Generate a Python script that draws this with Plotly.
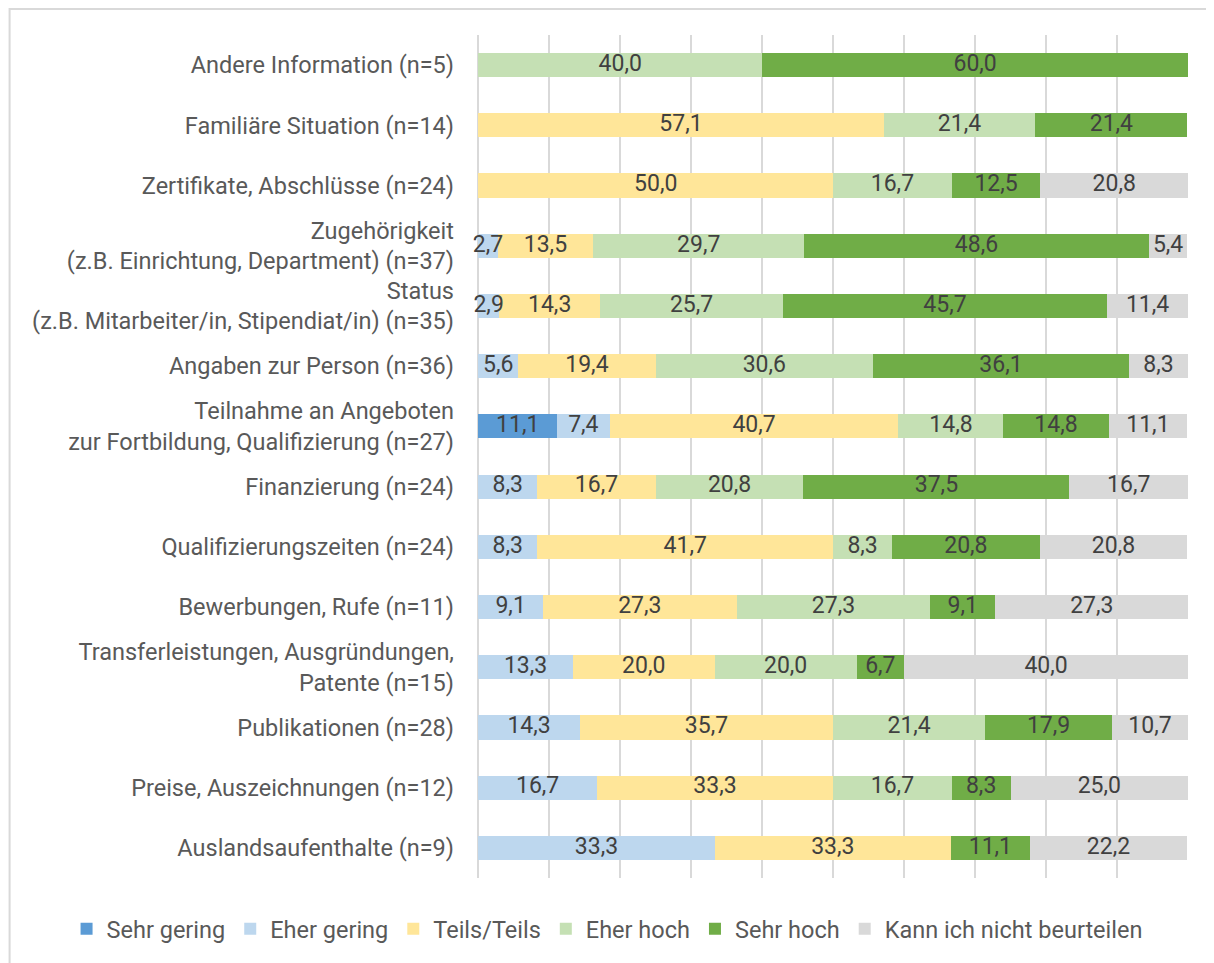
import plotly.graph_objects as go

categories = [
    "Andere Information (n=5)",
    "Familiäre Situation (n=14)",
    "Zertifikate, Abschlüsse (n=24)",
    "Zugehörigkeit<br>(z.B. Einrichtung, Department) (n=37)",
    "Status<br>(z.B. Mitarbeiter/in, Stipendiat/in) (n=35)",
    "Angaben zur Person (n=36)",
    "Teilnahme an Angeboten<br>zur Fortbildung, Qualifizierung (n=27)",
    "Finanzierung (n=24)",
    "Qualifizierungszeiten (n=24)",
    "Bewerbungen, Rufe (n=11)",
    "Transferleistungen, Ausgründungen,<br>Patente (n=15)",
    "Publikationen (n=28)",
    "Preise, Auszeichnungen (n=12)",
    "Auslandsaufenthalte (n=9)",
]

sehr_gering = [0, 0, 0, 0, 0, 0, 11.1, 0, 0, 0, 0, 0, 0, 0]
eher_gering = [0, 0, 0, 2.7, 2.9, 5.6, 7.4, 8.3, 8.3, 9.1, 13.3, 14.3, 16.7, 33.3]
teils_teils = [0, 57.1, 50.0, 13.5, 14.3, 19.4, 40.7, 16.7, 41.7, 27.3, 20.0, 35.7, 33.3, 33.3]
eher_hoch = [40.0, 21.4, 16.7, 29.7, 25.7, 30.6, 14.8, 20.8, 8.3, 27.3, 20.0, 21.4, 16.7, 0]
sehr_hoch = [60.0, 21.4, 12.5, 48.6, 45.7, 36.1, 14.8, 37.5, 20.8, 9.1, 6.7, 17.9, 8.3, 11.1]
kann_nicht = [0, 0, 20.8, 5.4, 11.4, 8.3, 11.1, 16.7, 20.8, 27.3, 40.0, 10.7, 25.0, 22.2]

series_names = ["Sehr gering", "Eher gering", "Teils/Teils", "Eher hoch", "Sehr hoch",
                "Kann ich nicht beurteilen"]
series_values = [sehr_gering, eher_gering, teils_teils, eher_hoch, sehr_hoch, kann_nicht]
colors = ["#5B9BD5", "#BDD7EE", "#FFE699", "#C5E0B4", "#70AD47", "#D9D9D9"]

# plot area geometry (figure pixels)
X_MIN = -1.6            # small empty room left of 0 so narrow labels are not clipped
PX_PER_UNIT = 7.1
PLOT_RIGHT = 1180
PLOT_W = PX_PER_UNIT * (100 - X_MIN)
L_MARGIN = PLOT_RIGHT - PLOT_W
TOP, BOTTOM = 27, 870
PLOT_H = BOTTOM - TOP
LABEL_RIGHT = 447

fig = go.Figure()
for name, vals, col in zip(series_names, series_values, colors):
    fig.add_trace(go.Bar(
        name=name, y=categories, x=vals, orientation="h",
        marker=dict(color=col, line=dict(width=0)),
        hoverinfo="x+name",
    ))

# value labels drawn on top of all bars (centre of each stacked segment)
lab_x, lab_y, lab_t = [], [], []
for i, cat in enumerate(categories):
    start = 0.0
    for vals in series_values:
        v = vals[i]
        if v > 0:
            lab_x.append(start + v / 2)
            lab_y.append(cat)
            lab_t.append(("%.1f" % v).replace(".", ","))
        start += v
fig.add_trace(go.Scatter(
    x=lab_x, y=lab_y, text=lab_t, mode="text", textposition="middle center",
    textfont=dict(family="Roboto", size=23, color="#404040"),
    showlegend=False, hoverinfo="skip", cliponaxis=False,
))

# outer frame (left and top edges of the chart area)
fig.add_shape(type="rect", xref="paper", yref="paper",
              x0=(1 - L_MARGIN) / PLOT_W, x1=1.2, y0=-0.3, y1=(BOTTOM - 1) / PLOT_H,
              line=dict(color="#D9D9D9", width=2), fillcolor="rgba(0,0,0,0)", layer="below")

fig.update_layout(
    width=1214, height=963,
    barmode="stack", bargap=0.6,
    separators=",.",
    paper_bgcolor="white", plot_bgcolor="white",
    margin=dict(l=L_MARGIN, r=1214 - PLOT_RIGHT, t=TOP, b=963 - BOTTOM, autoexpand=False),
    font=dict(family="Roboto", size=23.5, color="#595959"),
    showlegend=True,
    legend=dict(orientation="h", x=(58 - L_MARGIN) / PLOT_W, xanchor="left",
                y=(BOTTOM - 921) / PLOT_H, yanchor="middle",
                font=dict(family="Roboto", size=23.5, color="#595959"),
                traceorder="normal", itemwidth=30),
    xaxis=dict(range=[X_MIN, 100], tick0=0, dtick=10, showgrid=True, gridcolor="#D9D9D9",
               gridwidth=2, showticklabels=False, zeroline=False, showline=False,
               fixedrange=True, automargin=False),
    yaxis=dict(range=[len(categories) - 0.5, -0.5], autorange=False,
               categoryorder="array", categoryarray=categories,
               showgrid=False, ticks="", automargin=False,
               ticklabelstandoff=int(round(L_MARGIN - LABEL_RIGHT)),
               tickfont=dict(family="Roboto", size=23.5, color="#595959")),
)

fig.write_html("out.html")
